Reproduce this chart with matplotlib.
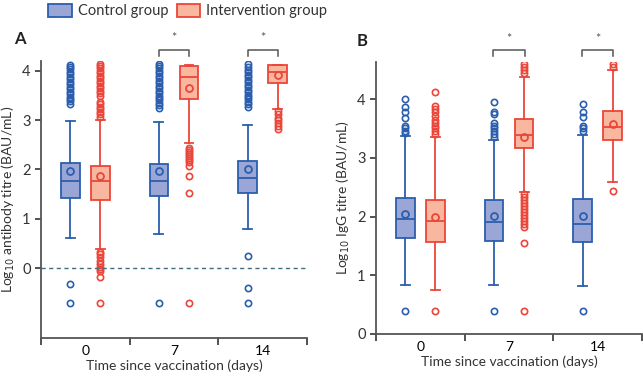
import matplotlib.pyplot as plt
from matplotlib.patches import Patch

plt.rcParams['font.family'] = ['Lato', 'DejaVu Sans']

# Datos (log10 títulos)
dias = ['0', '7', '14']
grupos = ['Control group', 'Intervention group']

# Panel A: anticuerpos
a_q1 = {'c': [1.43, 1.46, 1.52], 'i': [1.39, 3.43, 3.76]}
a_med = {'c': [1.76, 1.76, 1.82], 'i': [1.77, 3.87, 3.97]}
a_q3 = {'c': [2.13, 2.11, 2.18], 'i': [2.08, 4.10, 4.12]}
a_media = {'c': [1.96, 1.96, 2.01], 'i': [1.87, 3.66, 3.91]}
a_wlo = {'c': [0.62, 0.69, 0.79], 'i': [0.38, 2.54, 3.23]}
a_whi = {'c': [2.98, 2.97, 2.90], 'i': [3.00, 4.12, 4.12]}
a_out = {
    'c': [
        [3.33, 3.38, 3.43, 3.48, 3.53, 3.58, 3.63, 3.68, 3.73, 3.78, 3.83, 3.88,
         3.93, 3.98, 4.03, 4.08, 4.12, -0.33, -0.70],
        [3.25, 3.30, 3.35, 3.40, 3.45, 3.50, 3.55, 3.60, 3.65, 3.70, 3.75, 3.80,
         3.85, 3.90, 3.95, 4.00, 4.05, 4.10, 4.13, -0.70],
        [3.27, 3.32, 3.37, 3.42, 3.47, 3.52, 3.57, 3.62, 3.67, 3.72, 3.77, 3.82,
         3.87, 3.92, 3.97, 4.02, 4.07, 4.13, 0.24, -0.40, -0.70],
    ],
    'i': [
        [3.07, 3.12, 3.17, 3.22, 3.27, 3.32, 3.37, 3.50, 3.55, 3.60, 3.65, 3.70,
         3.75, 3.80, 3.85, 3.90, 3.95, 4.00, 4.05, 4.10, 4.13,
         0.33, 0.28, 0.22, 0.15, 0.08, 0.03, -0.02, -0.06, -0.18, -0.70],
        [2.44, 2.40, 2.36, 2.32, 2.28, 2.24, 2.20, 2.16, 2.08, 1.87, 1.52, -0.70],
        [3.18, 3.13, 3.05, 3.00, 2.95, 2.88, 2.82],
    ],
}

# Panel B: IgG
b_q1 = {'c': [1.63, 1.58, 1.56], 'i': [1.57, 3.16, 3.31]}
b_med = {'c': [1.95, 1.90, 1.87], 'i': [1.92, 3.39, 3.53]}
b_q3 = {'c': [2.32, 2.28, 2.29], 'i': [2.28, 3.67, 3.80]}
b_media = {'c': [2.05, 2.01, 2.01], 'i': [2.00, 3.36, 3.57]}
b_wlo = {'c': [0.83, 0.83, 0.82], 'i': [0.75, 2.41, 2.58]}
b_whi = {'c': [3.37, 3.31, 3.39], 'i': [3.35, 4.38, 4.50]}
b_out = {
    'c': [
        [3.42, 3.46, 3.50, 3.55, 3.68, 3.78, 3.86, 4.00, 0.39],
        [3.35, 3.40, 3.45, 3.50, 3.55, 3.60, 3.75, 3.78, 3.95, 0.39],
        [3.45, 3.50, 3.55, 3.70, 3.78, 3.92, 0.39],
    ],
    'i': [
        [3.40, 3.45, 3.50, 3.55, 3.60, 3.65, 3.72, 3.78, 3.84, 3.88, 4.13, 0.39],
        [4.45, 4.50, 4.55, 4.60, 2.38, 2.33, 2.28, 2.23, 2.18, 2.13, 2.08, 2.03,
         1.98, 1.93, 1.88, 1.82, 1.55, 0.39],
        [4.55, 4.60, 2.43],
    ],
}

colores = {'c': ('#9aa6d6', '#2b5fae'), 'i': ('#f9b7a0', '#ec4539')}
desplaz = {'c': -0.17, 'i': 0.17}


def dibujar_panel(ax, q1, med, q3, media, wlo, whi, out):
    for g in ['c', 'i']:
        relleno, borde = colores[g]
        stats = []
        for k in range(3):
            stats.append({'q1': q1[g][k], 'med': med[g][k], 'q3': q3[g][k],
                          'mean': media[g][k], 'whislo': wlo[g][k],
                          'whishi': whi[g][k], 'fliers': out[g][k]})
        pos = [k + 0.5 + desplaz[g] for k in range(3)]
        ax.bxp(stats, positions=pos, widths=0.21, capwidths=0.1,
               patch_artist=True, showmeans=True, manage_ticks=False,
               boxprops=dict(facecolor=relleno, edgecolor=borde, linewidth=1.3),
               medianprops=dict(color=borde, linewidth=1.3),
               whiskerprops=dict(color=borde, linewidth=1.3),
               capprops=dict(color=borde, linewidth=1.3),
               meanprops=dict(marker='o', markerfacecolor='none',
                              markeredgecolor=borde, markersize=5, markeredgewidth=1.3),
               flierprops=dict(marker='o', markerfacecolor='none',
                               markeredgecolor=borde, markersize=4.5, markeredgewidth=1.2))

    ax.set_xlim(0, 3)
    ax.set_xticks([0, 1, 2, 3])
    ax.set_xticklabels([])
    ax.set_xticks([0.5, 1.5, 2.5], minor=True)
    ax.set_xticklabels(dias, minor=True)
    ax.tick_params(axis='x', which='minor', length=0, pad=5)
    ax.tick_params(axis='x', which='major', length=5, width=1.3, color='#444444')
    ax.tick_params(axis='y', length=4, width=1.3, color='#444444')
    ax.tick_params(labelsize=10.5, labelcolor='#333333')
    for s in ['top', 'right']:
        ax.spines[s].set_visible(False)
    for s in ['left', 'bottom']:
        ax.spines[s].set_color('#555555')
        ax.spines[s].set_linewidth(1.3)
    ax.set_xlabel('Time since vaccination (days)', fontsize=10, color='#333333', labelpad=2)


def corchete(ax, x0, x1, y_top, y_bot, y_star):
    ax.plot([x0, x0, x1, x1], [y_bot, y_top, y_top, y_bot], color='#555555',
            linewidth=1.1, clip_on=False)
    ax.text((x0 + x1) / 2, y_star, '*', ha='center', va='center', fontsize=9,
            color='#555555', clip_on=False)


fig = plt.figure(figsize=(6.43, 3.79), dpi=100)
axA = fig.add_axes([0.0638, 0.108, 0.4136, 0.731])
axB = fig.add_axes([0.5848, 0.119, 0.4136, 0.717])

# Panel A
dibujar_panel(axA, a_q1, a_med, a_q3, a_media, a_wlo, a_whi, a_out)
axA.set_ylim(-1.42, 4.2)
axA.set_yticks([0, 1, 2, 3, 4])
axA.axhline(0, color='#3f6f80', linestyle=(0, (3, 2.5)), linewidth=1.0)
axA.set_ylabel('Log$_{10}$ antibody titre (BAU/mL)', fontsize=10, color='#333333')
for k in [1, 2]:
    corchete(axA, k + 0.5 - 0.17, k + 0.5 + 0.17, 4.43, 4.30, 4.66)
axA.text(-0.3, 4.55, 'A', fontsize=12, fontweight='bold', color='#222222')

# Panel B
dibujar_panel(axB, b_q1, b_med, b_q3, b_media, b_wlo, b_whi, b_out)
axB.set_ylim(0, 4.63)
axB.set_yticks([0, 1, 2, 3, 4])
axB.set_ylabel('Log$_{10}$ IgG titre (BAU/mL)', fontsize=10, color='#333333')
for k in [1, 2]:
    corchete(axB, k + 0.5 - 0.175, k + 0.5 + 0.175, 4.83, 4.74, 5.03)
axB.text(-0.22, 4.9, 'B', fontsize=12, fontweight='bold', color='#222222')

# Leyenda
manejadores = [Patch(facecolor=colores[g][0], edgecolor=colores[g][1], linewidth=1.3)
               for g in ['c', 'i']]
fig.legend(manejadores, grupos, loc='upper left', bbox_to_anchor=(0.055, 1.025),
           ncol=2, frameon=False, fontsize=10.5, handlelength=1.6, handleheight=1.0,
           columnspacing=0.6, handletextpad=0.4, labelcolor='#333333')

plt.savefig('out.png', dpi=100)
